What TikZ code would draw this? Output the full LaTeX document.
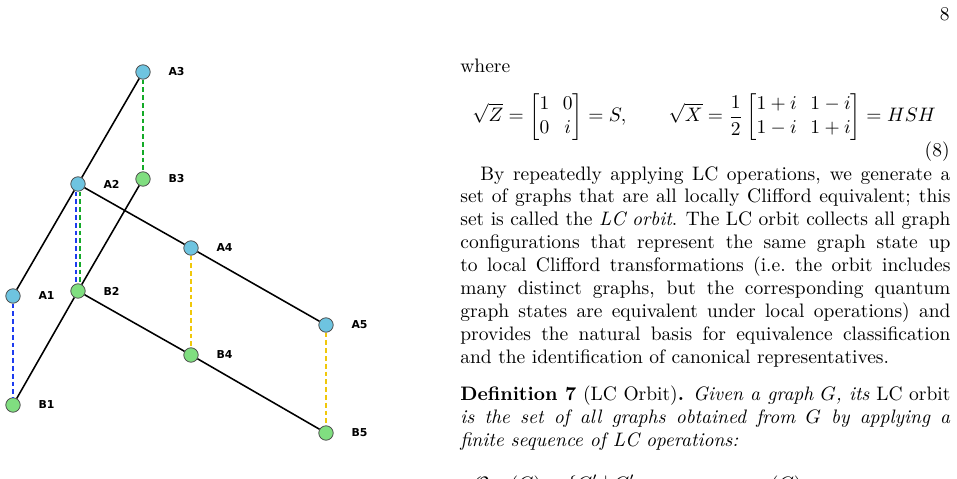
\documentclass[tikz,border=0pt]{standalone}
\usepackage{amsmath}
\usepackage{fontspec}
\newfontfamily\lblfont{DejaVu Sans}
\usetikzlibrary{positioning}
\definecolor{qblue}{RGB}{110,196,224}
\definecolor{qgreen}{RGB}{128,222,128}
\definecolor{eblue}{RGB}{30,60,240}
\definecolor{egreen}{RGB}{20,170,40}
\definecolor{eyellow}{RGB}{240,200,10}
\tikzstyle{qa} = [circle, draw=black!70, line width=0.4pt, fill=qblue, minimum size=7.4pt, inner sep=0pt]
\tikzstyle{qb} = [circle, draw=black!70, line width=0.4pt, fill=qgreen, minimum size=7.4pt, inner sep=0pt]
\tikzstyle{lbl} = [inner sep=0pt, font=\lblfont\bfseries\fontsize{5.6}{6}\selectfont]
\tikzstyle{edge} = [line width=0.8pt]
\tikzstyle{lc} = [line width=1.15pt, dash pattern=on 2.5pt off 1.5pt]
\tikzstyle{txt} = [anchor=base west, inner sep=0pt]
\newcommand{\fullline}[1]{\makebox[251.4pt][s]{#1}}

\begin{document}
\begin{tikzpicture}[x=0.513pt, y=-0.513pt]
\useasboundingbox (0,0) rectangle (957,478);
\clip (0,0) rectangle (957,478);

% graph of the two rows
\node (A3) [qa] at (143,72) {};
\node (B3) [qb] at (143,179) {};
\node (A2) [qa] at (78,184) {};
\node (B2) [qb] at (78,291) {};
\node (A1) [qa] at (13,296) {};
\node (B1) [qb] at (13,405) {};
\node (A4) [qa] at (191,248) {};
\node (B4) [qb] at (191,355) {};
\node (A5) [qa] at (326,325) {};
\node (B5) [qb] at (326,433) {};

\node (A1l) [lbl, right=9pt of A1] {A1};
\node (A2l) [lbl, right=9pt of A2] {A2};
\node (A3l) [lbl, right=9pt of A3] {A3};
\node (A4l) [lbl, right=9pt of A4] {A4};
\node (A5l) [lbl, right=9pt of A5] {A5};
\node (B1l) [lbl, right=9pt of B1] {B1};
\node (B2l) [lbl, right=9pt of B2] {B2};
\node (B3l) [lbl, right=9pt of B3] {B3};
\node (B4l) [lbl, right=9pt of B4] {B4};
\node (B5l) [lbl, right=9pt of B5] {B5};

\draw [edge] (A3) -- (A2);
\draw [edge] (A2) -- (A1);
\draw [edge] (A2) -- (A4);
\draw [edge] (A4) -- (A5);
\draw [edge] (B3) -- (B2);
\draw [edge] (B2) -- (B1);
\draw [edge] (B2) -- (B4);
\draw [edge] (B4) -- (B5);

\draw [lc, draw=eblue] (A1) -- (B1);
\draw [lc, draw=eblue] ([xshift=-1.15pt]A2.south) -- ([xshift=-1.15pt]B2.north);
\draw [lc, draw=egreen] ([xshift=1.15pt]A2.south) -- ([xshift=1.15pt]B2.north);
\draw [lc, draw=egreen] (A3) -- (B3);
\draw [lc, draw=eyellow] (A4) -- (B4);
\draw [lc, draw=eyellow] (A5) -- (B5);

% text column
\node (pg) [inner sep=0pt, anchor=base east] at (950,20.7) {8};
\node (where) [txt] at (460,72) {where};
\node (eq) [inner sep=0pt] at (704,117) {\arraycolsep=3.5pt$\displaystyle \sqrt{Z}=\begin{bmatrix}1&0\\0&i\end{bmatrix}=S,\qquad \sqrt{X}=\frac{1}{2}\begin{bmatrix}1+i&1-i\\1-i&1+i\end{bmatrix}=HSH$};
\node (eqno) [inner sep=0pt, anchor=base east] at (950,156.7) {(8)};

\node (p1) [txt] at (480,180) {\makebox[241.1pt][s]{By repeatedly applying LC operations, we generate a}};
\node (p2) [txt] at (460,202.9) {\fullline{set of graphs that are all locally Clifford equivalent; this}};
\node (p3) [txt] at (460,225.8) {\fullline{set is called the \textit{LC orbit}. The LC orbit collects all graph}};
\node (p4) [txt] at (460,248.7) {\fullline{configurations that represent the same graph state up}};
\node (p5) [txt] at (460,271.6) {\fullline{to local Clifford transformations (i.e.\ the orbit includes}};
\node (p6) [txt] at (460,294.5) {\fullline{many distinct graphs, but the corresponding quantum}};
\node (p7) [txt] at (460,317.4) {\fullline{graph states are equivalent under local operations) and}};
\node (p8) [txt] at (460,340.3) {\fullline{provides the natural basis for equivalence classification}};
\node (p9) [txt] at (460,363.2) {and the identification of canonical representatives.};

\node (d1) [txt] at (460,400.7) {\fullline{\textbf{Definition 7} (LC Orbit)\textbf{.} \textit{Given a graph $G$, its} LC orbit}};
\node (d2) [txt] at (460,423.3) {\fullline{\textit{is the set of all graphs obtained from $G$ by applying a}}};
\node (d3) [txt] at (460,446) {\textit{finite sequence of LC operations:}};
\node (orbit) [txt] at (473,490) {$\mathcal{O}_{\mathrm{LC}}(G)=\{G'\mid G'=\tau_{v_k}\circ\cdots\circ\tau_{v_1}(G)$};

\end{tikzpicture}
\end{document}
